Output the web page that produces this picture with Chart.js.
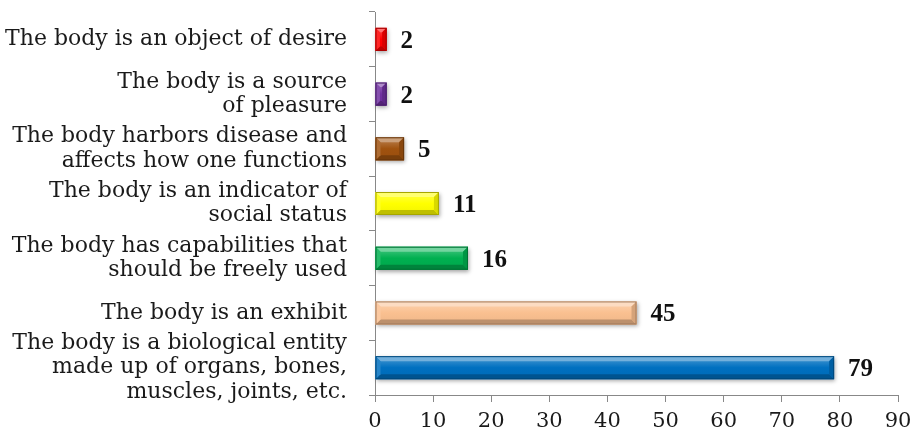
<!DOCTYPE html>
<html>
<head>
<meta charset="utf-8">
<script src="https://cdn.jsdelivr.net/npm/chart.js@4/dist/chart.umd.min.js"></script>
<style>
html,body{margin:0;padding:0;background:#fff;}
#wrap{width:918px;height:438px;position:relative;}
</style>
</head>
<body>
<div id="wrap"><canvas id="c"></canvas></div>
<script>
const categories = [
  ["The body is an object of desire"],
  ["The body is a source", "of pleasure"],
  ["The body harbors disease and", "affects how one functions"],
  ["The body is an indicator of", "social status"],
  ["The body has capabilities that", "should be freely used"],
  ["The body is an exhibit"],
  ["The body is a biological entity", "made up of organs, bones,", "muscles, joints, etc."]
];
const values = [2, 2, 5, 11, 16, 45, 79];
const barColors = ["#FF0000", "#7030A0", "#A0520F", "#FFFF00", "#00B050", "#FAC090", "#0070C0"];
const xTicks = [0, 10, 20, 30, 40, 50, 60, 70, 80, 90];

function shade(hex, amt) {
  const n = parseInt(hex.slice(1), 16);
  let r = (n >> 16) & 255, g = (n >> 8) & 255, b = n & 255;
  if (amt >= 0) { r += (255 - r) * amt; g += (255 - g) * amt; b += (255 - b) * amt; }
  else { r *= 1 + amt; g *= 1 + amt; b *= 1 + amt; }
  return `rgb(${Math.round(r)},${Math.round(g)},${Math.round(b)})`;
}

const bevelPlugin = {
  id: 'bevel',
  afterDatasetsDraw(chart) {
    const ctx = chart.ctx;
    const meta = chart.getDatasetMeta(0);
    meta.data.forEach((el, i) => {
      const p = el.getProps(['x', 'y', 'base', 'height'], true);
      const x0 = p.base, x1 = p.x, y0 = p.y - p.height / 2, y1 = p.y + p.height / 2;
      const w = x1 - x0, h = y1 - y0;
      const b = Math.min(5, w / 2.5, h / 4);
      const c = barColors[i];
      ctx.save();
      ctx.shadowColor = 'rgba(0,0,0,0.35)';
      ctx.shadowBlur = 4; ctx.shadowOffsetX = 1; ctx.shadowOffsetY = 2;
      ctx.fillStyle = c;
      ctx.fillRect(x0, y0, w, h);
      ctx.restore();
      ctx.save();
      const poly = (pts, col) => {
        ctx.beginPath(); ctx.moveTo(pts[0][0], pts[0][1]);
        for (let k = 1; k < pts.length; k++) ctx.lineTo(pts[k][0], pts[k][1]);
        ctx.closePath(); ctx.fillStyle = col; ctx.fill();
      };
      const g = ctx.createLinearGradient(0, y0, 0, y1);
      g.addColorStop(0, shade(c, 0.3));
      g.addColorStop(0.5, c);
      g.addColorStop(1, shade(c, -0.05));
      ctx.fillStyle = g;
      ctx.fillRect(x0, y0, w, h);
      poly([[x0, y0], [x1, y0], [x1 - b, y0 + b], [x0 + b, y0 + b]], shade(c, 0.45));
      poly([[x0, y1], [x1, y1], [x1 - b, y1 - b], [x0 + b, y1 - b]], shade(c, -0.25));
      poly([[x0, y0], [x0 + b, y0 + b], [x0 + b, y1 - b], [x0, y1]], shade(c, 0.15));
      poly([[x1, y0], [x1 - b, y0 + b], [x1 - b, y1 - b], [x1, y1]], shade(c, -0.15));
      ctx.strokeStyle = shade(c, -0.35);
      ctx.lineWidth = 1;
      ctx.strokeRect(x0 + 0.5, y0 + 0.5, w - 1, h - 1);
      ctx.fillStyle = '#111';
      ctx.font = 'bold 25px "Liberation Serif"';
      ctx.textAlign = 'left';
      ctx.textBaseline = 'middle';
      ctx.fillText(String(values[i]), x1 + 14, p.y + 2);
      ctx.restore();
    });
  }
};

new Chart(document.getElementById('c'), {
  type: 'bar',
  data: {
    labels: categories,
    datasets: [{
      data: values,
      backgroundColor: 'rgba(0,0,0,0)',
      borderWidth: 0,
      categoryPercentage: 1,
      barPercentage: 0.42
    }]
  },
  options: {
    indexAxis: 'y',
    responsive: true,
    maintainAspectRatio: false,
    animation: false,
    layout: { padding: { top: 12, right: 20, left: 0, bottom: 0 } },
    plugins: { legend: { display: false }, tooltip: { enabled: false } },
    scales: {
      y: {
        grid: { drawOnChartArea: false, offset: true, color: '#888', tickLength: 6 },
        border: { color: '#888', width: 1 },
        ticks: {
          autoSkip: false,
          color: '#1a1a1a',
          padding: 22,
          font: { family: '"DejaVu Serif"', size: 22, lineHeight: 1.1 }
        },
        afterFit(scale) { scale.width = 375; scale.paddingTop = 0; scale.paddingBottom = 0; }
      },
      x: {
        min: 0, max: 90,
        afterBuildTicks(scale) { scale.ticks = xTicks.map(v => ({ value: v })); },
        grid: { drawOnChartArea: false, color: '#888', tickLength: 7 },
        border: { color: '#888', width: 1 },
        ticks: {
          color: '#1a1a1a',
          padding: 7,
          maxRotation: 0,
          font: { family: '"DejaVu Serif"', size: 21 }
        },
        afterFit(scale) { scale.height = 43; scale.paddingLeft = 0; scale.paddingRight = 0; }
      }
    }
  },
  plugins: [bevelPlugin]
});
</script>
</body>
</html>
